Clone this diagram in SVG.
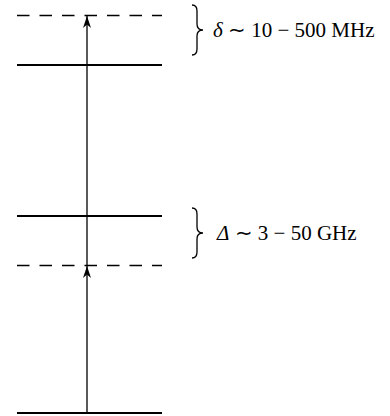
<svg xmlns="http://www.w3.org/2000/svg" width="390" height="416" viewBox="0 0 390 416">
<style>
.lvl{stroke:#000;stroke-width:2;fill:none}
.dash{stroke:#000;stroke-width:1.5;stroke-dasharray:12.5 10;fill:none}
.br{stroke:#000;stroke-width:1.3;fill:none}
.ax{stroke:#000;stroke-width:1.3;fill:none}
text{font-family:"Liberation Serif","Times New Roman",serif;font-size:21px;fill:#000}
</style>
<defs>
<marker id="ah" viewBox="0 0 12 10" refX="12" refY="5" markerWidth="12" markerHeight="10" markerUnits="userSpaceOnUse" orient="auto">
<path d="M0,1 L12,5 L0,9 L3.5,5 Z" fill="#000"/>
</marker>
</defs>
<g id="levels">
<g id="level-top"><line class="dash" x1="17" y1="15.5" x2="162" y2="15.5"/></g>
<g id="level-2"><line class="lvl" x1="17" y1="65" x2="162" y2="65"/></g>
<g id="level-3"><line class="lvl" x1="17" y1="216" x2="162" y2="216"/></g>
<g id="level-4"><line class="dash" x1="17" y1="265.5" x2="162" y2="265.5"/></g>
<g id="level-bottom"><line class="lvl" x1="17" y1="413" x2="162" y2="413"/></g>
</g>
<g id="connectors">
<line class="ax" x1="87" y1="413" x2="87" y2="266" marker-end="url(#ah)"/>
<line class="ax" x1="87" y1="266" x2="87" y2="16" marker-end="url(#ah)"/>
</g>
<g id="label-delta">
<path class="br" d="M192,5 Q197,5 197,11 L197,24 Q197,30 203,30 Q197,30 197,36 L197,49 Q197,55 192,55"/>
<text x="213" y="37"><tspan font-style="italic">δ</tspan> ∼ 10 − 500 MHz</text>
</g>
<g id="label-Delta">
<path class="br" d="M192,208 Q197,208 197,214 L197,227 Q197,233 203,233 Q197,233 197,239 L197,252 Q197,258 192,258"/>
<text x="217" y="240"><tspan font-style="italic">Δ</tspan> ∼ 3 − 50 GHz</text>
</g>
</svg>
